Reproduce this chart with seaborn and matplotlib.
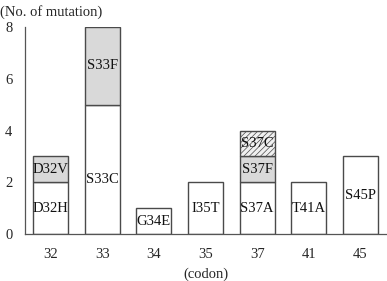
import matplotlib
matplotlib.use("Agg")
import matplotlib.pyplot as plt
import pandas as pd
import seaborn as sns

sns.set_style("white")
plt.rcParams["font.family"] = ["Liberation Serif", "DejaVu Serif"]
plt.rcParams["hatch.color"] = "#9a9a9a"
plt.rcParams["hatch.linewidth"] = 0.5

# codon positions
codons = ["32", "33", "34", "35", "37", "41", "45"]

# first layer (white)
base_counts = [2, 5, 1, 2, 2, 2, 3]
base_labels = ["D32H", "S33C", "G34E", "I35T", "S37A", "T41A", "S45P"]

# second layer (gray)
mid_counts = [1, 3, 0, 0, 1, 0, 0]
mid_labels = ["D32V", "S33F", "", "", "S37F", "", ""]

# third layer (hatched)
top_counts = [0, 0, 0, 0, 1, 0, 0]
top_labels = ["", "", "", "", "S37C", "", ""]

# manual nudges of a few labels
label_shift = {"S33C": -0.4}

df = pd.DataFrame({
    "codon": codons,
    "base": base_counts,
    "mid": mid_counts,
    "top": top_counts,
})
df["mid_bottom"] = df["base"]
df["top_bottom"] = df["base"] + df["mid"]

fig = plt.figure(figsize=(3.87, 2.81), dpi=100)
ax = fig.add_axes([25 / 387, 1 - 234 / 281, 361 / 387, 207 / 281])

edge = "#4a4a4a"
fs = 10.5
layers = [
    ("base", None, "white", None),
    ("mid", "mid_bottom", "#d9d9d9", None),
    ("top", "top_bottom", "#f0f0f0", "//////"),
]
for col, bottom_col, color, hatch in layers:
    bottom = 0 if bottom_col is None else df[bottom_col].values
    sns.barplot(
        data=df, x="codon", y=col, bottom=bottom, order=codons,
        color=color, edgecolor=edge, linewidth=1.0, width=0.68,
        hatch=hatch, saturation=1, ax=ax,
    )

# drop empty segments
for p in list(ax.patches):
    if p.get_height() == 0:
        p.remove()

for i, c in enumerate(codons):
    segs = [
        (base_labels[i], 0, base_counts[i]),
        (mid_labels[i], base_counts[i], mid_counts[i]),
        (top_labels[i], base_counts[i] + mid_counts[i], top_counts[i]),
    ]
    for lab, b, h in segs:
        if lab:
            y = b + h / 2 + label_shift.get(lab, 0)
            ax.text(i, y, lab, ha="center", va="center", fontsize=fs,
                    color="#111111")

ax.set_xlim(-0.5, len(codons) - 0.5)
ax.set_ylim(0, 8)
ax.set_yticks([0, 2, 4, 6, 8])
ax.tick_params(axis="y", direction="in", length=3, width=0.8,
               color="#555555", pad=9, labelsize=fs)
ax.tick_params(axis="x", length=0, pad=10, labelsize=fs)
for side in ["top", "right"]:
    ax.spines[side].set_visible(False)
for side in ["left", "bottom"]:
    ax.spines[side].set_color("#555555")
    ax.spines[side].set_linewidth(0.9)

ax.set_ylabel("")
ax.set_xlabel("(codon)", fontsize=fs, labelpad=5)
fig.text(0.0, 1 - 12 / 281, "(No. of mutation)", fontsize=fs,
         ha="left", va="center")

fig.savefig("out.png", dpi=100)
